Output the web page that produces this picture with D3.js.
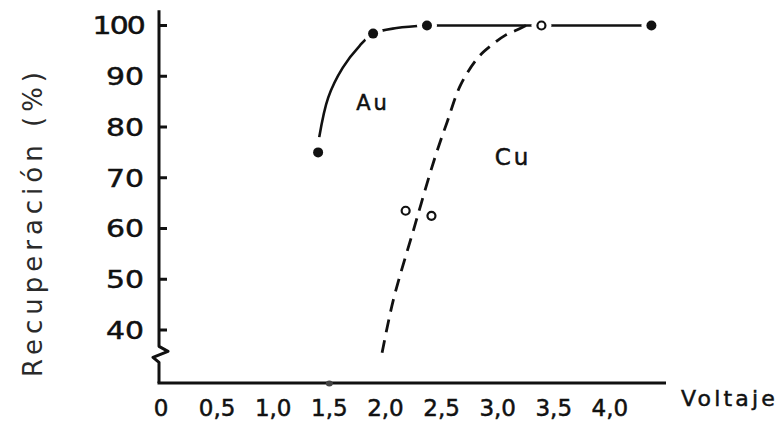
<!DOCTYPE html>
<html>
<head>
<meta charset="utf-8">
<script src="https://cdn.jsdelivr.net/npm/d3@7/dist/d3.min.js"></script>
<style>
  html, body { margin: 0; padding: 0; background: #fff; }
  svg { display: block; }
  text { font-family: "DejaVu Sans", sans-serif; fill: #111; }
  .lbl { stroke: #111; stroke-width: 0.5px; }
</style>
</head>
<body>
<svg id="chart" width="783" height="426"></svg>
<script>
// Measured recovery (%) versus applied voltage
const auPoints = [[1.40, 75], [1.89, 98.4], [2.37, 100], [4.37, 100]];
const auCurve  = [[1.41, 78], [1.49, 85.8], [1.62, 91.7], [1.77, 96], [1.89, 98.4], [2.10, 99.5], [2.37, 100]];
const topLine  = [[2.37, 100], [4.37, 100]];
const cuPoints = [[2.18, 63.5], [2.41, 62.5], [3.39, 100]];
const cuCurve  = [[1.97, 35.5], [2.07, 45.9], [2.25, 59.7], [2.44, 73.9], [2.55, 81.0],
                  [2.67, 88.3], [2.83, 93.8], [2.95, 96.2], [3.07, 98.1], [3.17, 99.1], [3.27, 100.2]];
const xTicks = [0, 0.5, 1.0, 1.5, 2.0, 2.5, 3.0, 3.5, 4.0];
const xTickLabels = ["0", "0,5", "1,0", "1,5", "2,0", "2,5", "3,0", "3,5", "4,0"];
const yTicks = [40, 50, 60, 70, 80, 90, 100];

const svg = d3.select("#chart");
const x = d3.scaleLinear().domain([0, 4.5]).range([161, 666]);
const y = d3.scaleLinear().domain([40, 100]).range([330, 25.5]);
const x0 = 159, yTop = y(103), yBottom = 383;

// y axis with a break mark near the origin
const brk = y(35.6);
svg.append("path")
  .attr("d", `M${x0},${yTop} L${x0},${brk - 6} L${x0 + 9},${brk - 1} L${x0 - 6},${brk + 5} L${x0},${brk + 10} L${x0},${yBottom}`)
  .attr("fill", "none").attr("stroke", "#111").attr("stroke-width", 3).attr("stroke-linejoin", "round");

// x axis
svg.append("line").attr("x1", x0 - 1.5).attr("x2", 666).attr("y1", yBottom).attr("y2", yBottom)
  .attr("stroke", "#111").attr("stroke-width", 3);
// small mark on the x axis at 1,5
svg.append("ellipse").attr("cx", x(1.5)).attr("cy", yBottom + 0.5).attr("rx", 3.5).attr("ry", 3)
  .attr("fill", "#444");

// y ticks and labels
const yg = svg.append("g");
yg.selectAll("line").data(yTicks).join("line")
  .attr("x1", x0).attr("x2", x0 + 8).attr("y1", d => y(d)).attr("y2", d => y(d))
  .attr("stroke", "#111").attr("stroke-width", 3);
yg.selectAll("text").data(yTicks).join("text")
  .attr("class", "lbl")
  .attr("transform", d => `translate(144,${y(d)}) scale(1.22,1)`)
  .attr("dy", "0.36em")
  .attr("text-anchor", "end").attr("font-size", 24.5)
  .attr("letter-spacing", d => d === 100 ? -1.5 : 0)
  .text(d => d);

// x tick labels
svg.append("g").selectAll("text").data(xTicks).join("text")
  .attr("class", "lbl")
  .attr("x", d => x(d)).attr("y", 416).attr("text-anchor", "middle")
  .attr("font-size", 23)
  .text((d, i) => xTickLabels[i]);

svg.append("text").attr("class", "lbl").attr("x", 681).attr("y", 406)
  .attr("font-size", 22).attr("letter-spacing", 3.2).text("Voltaje");

svg.append("text")
  .attr("transform", "translate(42,222) rotate(-90)")
  .attr("text-anchor", "middle").attr("font-size", 26).attr("letter-spacing", 5)
  .style("fill", "#2a2a2a")
  .text("Recuperación (%)");

const line = d3.line().x(d => x(d[0])).y(d => y(d[1]));

// Au: solid curve
svg.append("path").datum(auCurve).attr("d", line.curve(d3.curveCatmullRom))
  .attr("fill", "none").attr("stroke", "#111").attr("stroke-width", 2.6);
svg.append("path").datum(topLine).attr("d", line.curve(d3.curveLinear))
  .attr("fill", "none").attr("stroke", "#111").attr("stroke-width", 2.6);

// Cu: dashed curve
svg.append("path").datum(cuCurve).attr("d", line.curve(d3.curveCatmullRom))
  .attr("fill", "none").attr("stroke", "#111").attr("stroke-width", 2.8)
  .attr("stroke-dasharray", "13 8");

// white gaps around markers
const halos = auPoints.concat([cuPoints[2]]);
svg.append("g").selectAll("circle").data(halos).join("circle")
  .attr("cx", d => x(d[0])).attr("cy", d => y(d[1])).attr("r", 10).attr("fill", "#fff");

// markers
svg.append("g").selectAll("circle").data(auPoints).join("circle")
  .attr("cx", d => x(d[0])).attr("cy", d => y(d[1])).attr("r", 5).attr("fill", "#111");
svg.append("g").selectAll("circle").data(cuPoints).join("circle")
  .attr("cx", d => x(d[0])).attr("cy", d => y(d[1])).attr("r", 4)
  .attr("fill", "#fff").attr("stroke", "#111").attr("stroke-width", 2.2);

// series labels
svg.append("text").attr("class", "lbl").attr("x", 373).attr("y", 102).attr("dy", "0.36em").attr("text-anchor", "middle")
  .attr("font-size", 21).attr("letter-spacing", 3).text("Au");
svg.append("text").attr("class", "lbl").attr("x", 513).attr("y", 157).attr("dy", "0.36em").attr("text-anchor", "middle")
  .attr("font-size", 23).attr("letter-spacing", 3).text("Cu");
</script>
</body>
</html>
